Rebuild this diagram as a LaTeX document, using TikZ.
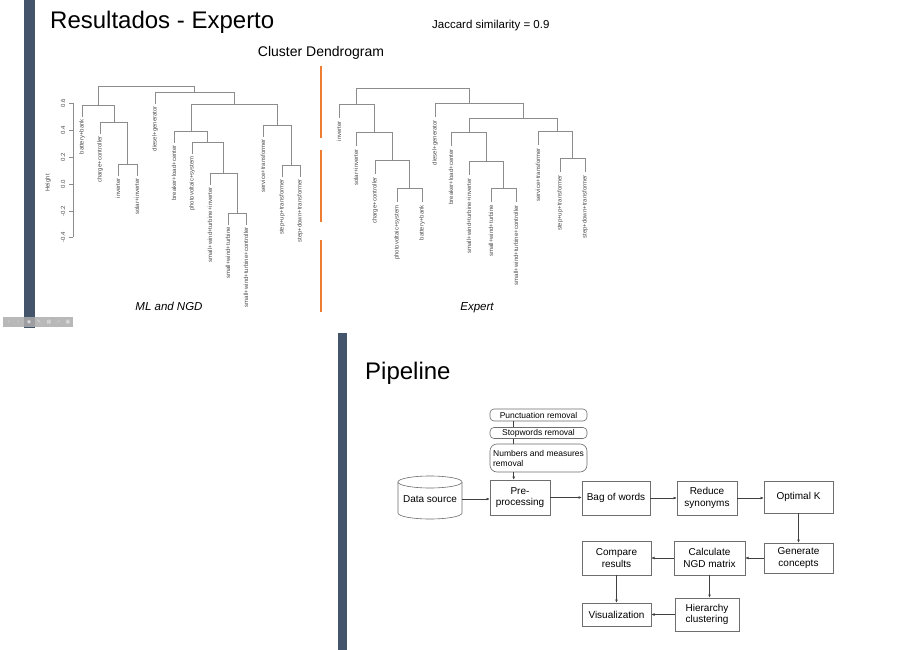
\documentclass[tikz,border=0pt]{standalone}
\usepackage{fontspec}
\setmainfont{Liberation Sans}
\newfontfamily\symfont{DejaVu Sans}
\usetikzlibrary{arrows.meta}
\definecolor{barblue}{HTML}{44546A}
\definecolor{orng}{HTML}{ED7D31}
\definecolor{dgray}{HTML}{8C8C8C}
\definecolor{lblgray}{HTML}{4D4D4D}
\definecolor{boxgray}{HTML}{6E6E6E}
\begin{document}
\begin{tikzpicture}[x=1pt,y=-1pt,
  dend/.style={draw=dgray, line width=0.6pt},
  lbl/.style={rotate=90, anchor=east, font=\fontsize{6}{7}\selectfont, text=lblgray, inner sep=0pt},
  axlbl/.style={rotate=90, font=\fontsize{6}{7}\selectfont, text=lblgray, inner sep=0pt},
  pbox/.style={draw=boxgray, line width=0.6pt, fill=white, align=center, font=\fontsize{10}{11.5}\selectfont, inner sep=1pt},
  subbox/.style={draw=boxgray, line width=0.6pt, fill=white, rounded corners=4pt, font=\fontsize{8.5}{10}\selectfont, inner sep=1pt, minimum width=97},
  arr/.style={draw=black!75, line width=0.5pt, -{Latex[length=3.2pt,width=2.8pt]}},
  icon/.style={font=\symfont\fontsize{5}{5}\selectfont, text=gray!25, inner sep=0pt},
]
\useasboundingbox (0,0) rectangle (900,650);
\fill[white] (0,0) rectangle (900,650);

% side bars
\fill[barblue] (24,0) rectangle (35,328);
\fill[barblue] (338,333) rectangle (347,650);

% toolbar
\fill[gray!65, opacity=0.85] (3,317) rectangle (73,327);
\node[icon] (t1) at (9,322) {‹};
\node[icon] (t2) at (18,322) {›};
\node[icon] (t3) at (29,322) {◉};
\node[icon] (t4) at (39,322) {✎};
\node[icon] (t5) at (49,322) {▦};
\node[icon] (t6) at (59,322) {✓};
\node[icon] (t7) at (68,322) {▣};

% titles
\node[anchor=west, font=\fontsize{24}{28}\selectfont, inner sep=0pt] (title) at (50,22) {Resultados - Experto};
\node[anchor=west, font=\fontsize{11.5}{13}\selectfont, inner sep=0pt] (jac) at (432,26) {Jaccard similarity = 0.9};
\node[font=\fontsize{14}{16}\selectfont, inner sep=0pt] (cd) at (321,53) {Cluster Dendrogram};
\node[anchor=west, font=\fontsize{24}{28}\selectfont, inner sep=0pt] (pipe) at (365,373) {Pipeline};

% orange separator
\draw[orng, line width=2pt] (321,66) -- (321,138);
\draw[orng, line width=2pt] (321,150) -- (321,222);
\draw[orng, line width=2pt] (321,240) -- (321,312);

% left axis
\draw[dend] (73,103) -- (73,237);
\foreach \yy in {103,130,157,184,211,237} \draw[dend] (73,\yy) -- (69,\yy);
\node[axlbl] (a1) at (63,103) {0.6};
\node[axlbl] (a2) at (63,130) {0.4};
\node[axlbl] (a3) at (63,157) {0.2};
\node[axlbl] (a4) at (63,184) {0.0};
\node[axlbl] (a5) at (63,211) {-0.2};
\node[axlbl] (a6) at (63,237) {-0.4};
\node[axlbl] (ht) at (48,183) {Height};

% left dendrogram
\draw[dend] (118,176) |- (137,164) -- (137,176);
\draw[dend] (100,134) |- (127.5,122) -- (127.5,164);
\draw[dend] (82,117) |- (114,105) -- (114,122);
\draw[dend] (228,225) |- (246,213) -- (246,225);
\draw[dend] (210,185) |- (237,173) -- (237,213);
\draw[dend] (192,154) |- (223,142) -- (223,173);
\draw[dend] (174,143) |- (207.5,131) -- (207.5,142);
\draw[dend] (282,177) |- (300,165) -- (300,177);
\draw[dend] (263,137) |- (291,125) -- (291,165);
\draw[dend] (191,131) |- (277,104) -- (277,125);
\draw[dend] (155,104) |- (234,92) -- (234,104);
\draw[dend] (98,105) |- (194.5,86) -- (194.5,92);

\node[lbl] (l1) at (82,119) {battery+bank};
\node[lbl] (l2) at (100,136) {charge+controller};
\node[lbl] (l3) at (118,178) {inverter};
\node[lbl] (l4) at (137,178) {solar+inverter};
\node[lbl] (l5) at (155,106) {diesel+generator};
\node[lbl] (l6) at (174,145) {breaker+load+center};
\node[lbl] (l7) at (192,156) {photovoltaic+system};
\node[lbl] (l8) at (210,187) {small+wind+turbine+inverter};
\node[lbl] (l9) at (228,227) {small+wind+turbine};
\node[lbl] (l10) at (246,227) {small+wind+turbine+controller};
\node[lbl] (l11) at (263,139) {service+transformer};
\node[lbl] (l12) at (282,179) {step+up+transformer};
\node[lbl] (l13) at (300,179) {step+down+transformer};

% right dendrogram
\draw[dend] (397,202) |- (422,188) -- (422,202);
\draw[dend] (375,174) |- (409.5,160) -- (409.5,188);
\draw[dend] (356,146) |- (392,132) -- (392,160);
\draw[dend] (339,118) |- (374,104) -- (374,132);
\draw[dend] (491,202) |- (516,188) -- (516,202);
\draw[dend] (469,175) |- (503.5,161) -- (503.5,188);
\draw[dend] (451,146) |- (486,132) -- (486,161);
\draw[dend] (560,172) |- (585,158) -- (585,172);
\draw[dend] (538,145) |- (572.5,131) -- (572.5,158);
\draw[dend] (469,132) |- (557,118) -- (557,131);
\draw[dend] (435,117) |- (523,103) -- (523,118);
\draw[dend] (356,104) |- (469,88) -- (469,103);

\node[lbl] (r1) at (339,121) {inverter};
\node[lbl] (r2) at (356,149) {solar+inverter};
\node[lbl] (r3) at (375,177) {charge+controller};
\node[lbl] (r4) at (397,205) {photovoltaic+system};
\node[lbl] (r5) at (422,205) {battery+bank};
\node[lbl] (r6) at (435,120) {diesel+generator};
\node[lbl] (r7) at (451,149) {breaker+load+center};
\node[lbl] (r8) at (469,178) {small+wind+turbine+inverter};
\node[lbl] (r9) at (491,205) {small+wind+turbine};
\node[lbl] (r10) at (516,205) {small+wind+turbine+controller};
\node[lbl] (r11) at (538,148) {service+transformer};
\node[lbl] (r12) at (560,175) {step+up+transformer};
\node[lbl] (r13) at (585,175) {step+down+transformer};

\node[font=\itshape\fontsize{11.5}{13}\selectfont, inner sep=0pt] (ml) at (169,306) {ML and NGD};
\node[font=\itshape\fontsize{11.5}{13}\selectfont, inner sep=0pt] (ex) at (477,308) {Expert};

% pipeline
\node[subbox, minimum height=12] (punct) at (538.5,415) {Punctuation removal};
\node[subbox, minimum height=11] (stop) at (538.5,433) {Stopwords removal};
\node[subbox, minimum height=28, rounded corners=7pt, align=left] (num) at (538.5,458) {Numbers and measures\\removal};

\draw[boxgray, line width=0.6pt, fill=white] (398,482) -- (398,513) arc[start angle=180, end angle=0, x radius=32, y radius=6] -- (462,482);
\draw[boxgray, line width=0.6pt, fill=white] (430,482) ellipse[x radius=32, y radius=6];
\node[font=\fontsize{10}{11.5}\selectfont, minimum width=64, inner sep=0pt] (ds) at (430,499) {Data source};

\node[pbox, minimum width=60, minimum height=35] (pre) at (520,497.5) {Pre-\\processing};
\node[pbox, minimum width=68, minimum height=34] (bag) at (616,498) {Bag of words};
\node[pbox, minimum width=60, minimum height=34] (red) at (707,498) {Reduce\\synonyms};
\node[pbox, minimum width=69, minimum height=32] (optk) at (798.5,497) {Optimal K};
\node[pbox, minimum width=69, minimum height=30] (gen) at (798.5,558) {Generate\\concepts};
\node[pbox, minimum width=71, minimum height=34] (calc) at (709.5,558) {Calculate\\NGD matrix};
\node[pbox, minimum width=69, minimum height=34] (comp) at (616.5,558) {Compare\\results};
\node[pbox, minimum width=64, minimum height=33] (hier) at (707,614.5) {Hierarchy\\clustering};
\node[pbox, minimum width=69, minimum height=23] (vis) at (616.5,614.5) {Visualization};

\draw[draw=black!75, line width=0.5pt] ([xshift=24]punct.south west) -- ([xshift=24]stop.north west);
\draw[draw=black!75, line width=0.5pt] ([xshift=24]stop.south west) -- ([xshift=24]num.north west);
\draw[arr] ([xshift=24]num.south west) -- ([xshift=24]pre.north west);
\draw[arr] (ds.east) -- (ds.east -| pre.west);
\draw[arr] (pre.east) -- (pre.east -| bag.west);
\draw[arr] (bag.east) -- (bag.east -| red.west);
\draw[arr] (red.east) -- (red.east -| optk.west);
\draw[arr] (optk.south) -- (gen.north);
\draw[arr] (gen.west) -- (calc.east);
\draw[arr] (calc.west) -- (comp.east);
\draw[arr] (calc.south) -- (calc.south |- hier.north);
\draw[arr] (comp.south) -- (vis.north);
\draw[arr] (hier.west) -- (hier.west -| vis.east);
\end{tikzpicture}
\end{document}
